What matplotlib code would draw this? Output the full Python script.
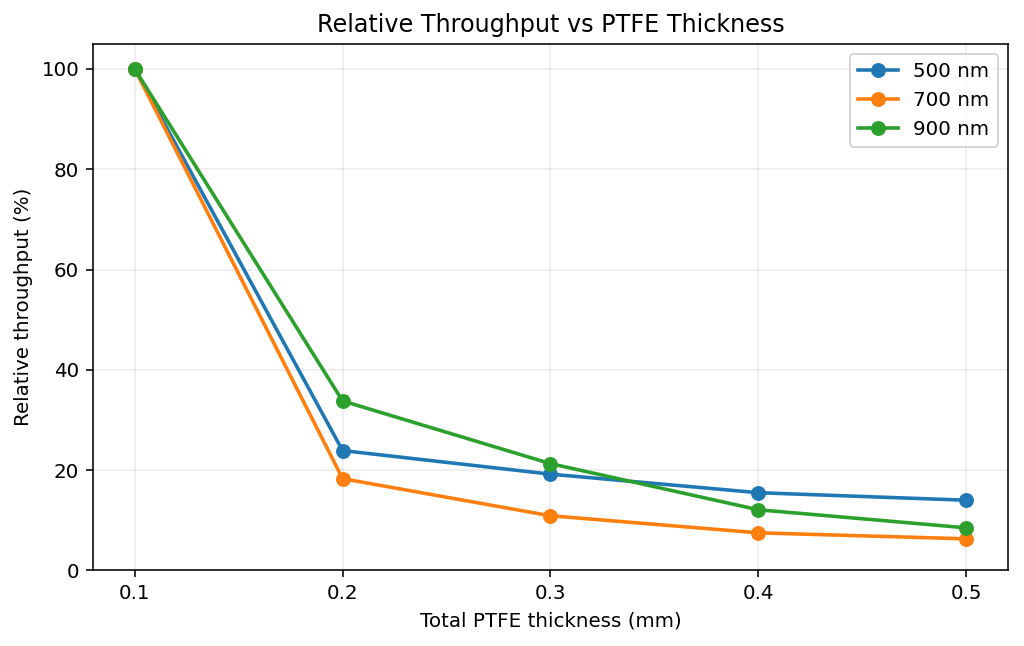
import matplotlib
matplotlib.use("Agg")
import matplotlib.pyplot as plt

thickness = [0.1, 0.2, 0.3, 0.4, 0.5]
t500 = [100, 23.9, 19.2, 15.5, 14.0]
t700 = [100, 18.3, 10.9, 7.5, 6.3]
t900 = [100, 33.8, 21.3, 12.1, 8.5]

fig, ax = plt.subplots(figsize=(1024/143, 646/143), dpi=143)
ax.plot(thickness, t500, marker='o', lw=1.8, ms=6.5, label='500 nm')
ax.plot(thickness, t700, marker='o', lw=1.8, ms=6.5, label='700 nm')
ax.plot(thickness, t900, marker='o', lw=1.8, ms=6.5, label='900 nm')
ax.set_xticks(thickness)
ax.set_ylim(0, 105)
ax.set_xlabel('Total PTFE thickness (mm)')
ax.set_ylabel('Relative throughput (%)')
ax.set_title('Relative Throughput vs PTFE Thickness')
ax.grid(True, alpha=0.25)
ax.legend(loc='upper right')
fig.subplots_adjust(left=0.091, right=0.984, top=0.932, bottom=0.117)
fig.savefig('out.png')
